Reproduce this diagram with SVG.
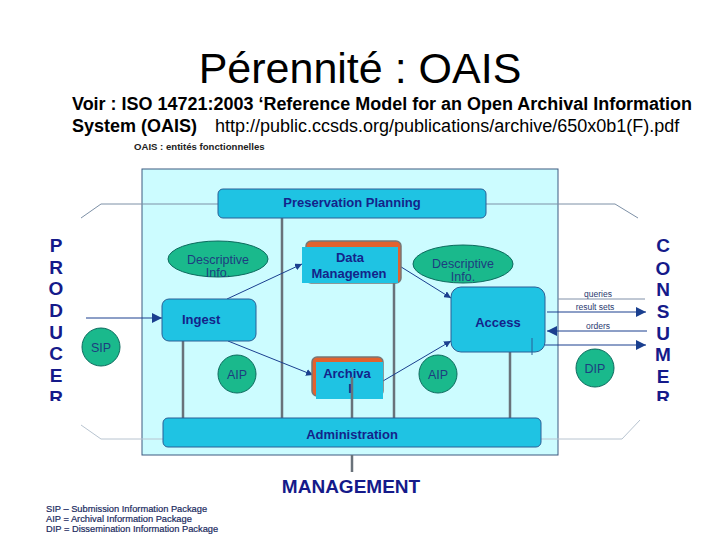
<svg xmlns="http://www.w3.org/2000/svg" width="720" height="540" viewBox="0 0 720 540">
<style>
.sans{font-family:"Liberation Sans",Arial,sans-serif}
.fbox{fill:#1fc3e3;stroke:#2a5f96;stroke-width:1}
.ftxt{font-family:"Liberation Sans",Arial,sans-serif;font-weight:bold;font-size:13px;fill:#14238a}
.ell{fill:#1ab98c;stroke:#0d6a5e;stroke-width:1}
.etxt{font-family:"Liberation Sans",Arial,sans-serif;font-size:12.5px;fill:#1d3d80}
.gray{stroke:#69727a;stroke-width:2.5;fill:none}
.thin{stroke:#1a3f8f;stroke-width:1;fill:none}
.faint{stroke:#b8c4d0;stroke-width:1;fill:none}
.guide{stroke:#7d90a6;stroke-width:1;fill:none}
.big{font-family:"Liberation Sans",Arial,sans-serif;font-weight:bold;font-size:19px;fill:#151a8a}
.lbl{font-family:"Liberation Sans",Arial,sans-serif;font-size:8.5px;fill:#2a3a70}
.leg{font-family:"Liberation Sans",Arial,sans-serif;font-size:9.3px;fill:#1a2a60;stroke:#1a2a60;stroke-width:0.2}
</style>
<defs>
<marker id="ah" viewBox="0 0 10 10" refX="10" refY="5" markerWidth="7" markerHeight="7" markerUnits="userSpaceOnUse" orient="auto">
<path d="M0,0 L10,5 L0,10 z" fill="#1a3f8f"/>
</marker>
<marker id="ahb" viewBox="0 0 10 10" refX="10" refY="5" markerWidth="10" markerHeight="10" markerUnits="userSpaceOnUse" orient="auto">
<path d="M0,0 L10,5 L0,10 z" fill="#1a3f8f"/>
</marker>
<clipPath id="vclip"><rect x="0" y="230" width="720" height="171"/></clipPath>
</defs>
<rect width="720" height="540" fill="#ffffff"/>

<g id="title">
<text x="360" y="83" text-anchor="middle" class="sans" font-size="43" fill="#000">Pérennité : OAIS</text>
<text x="72" y="110" class="sans" font-size="18" font-weight="bold" fill="#000" textLength="620" lengthAdjust="spacingAndGlyphs">Voir : ISO 14721:2003 ‘Reference Model for an Open Archival Information</text>
<text x="72" y="132" class="sans" font-size="18" fill="#000"><tspan font-weight="bold">System (OAIS)</tspan><tspan x="215">http://public.ccsds.org/publications/archive/650x0b1(F).pdf</tspan></text>
<text x="134" y="150" class="sans" font-size="9.6" font-weight="bold" fill="#222">OAIS : entités fonctionnelles</text>
</g>

<g id="oais-box">
<rect x="142" y="169" width="416" height="286" fill="#ccfcff" stroke="#3d5a80" stroke-width="1"/>
</g>

<g id="connectors">
<polyline class="guide" points="81,218 101,204 218,204"/>
<polyline class="guide" points="486,204 615,204 638,218"/>
<polyline class="faint" points="81,425 101,439 163,439"/>
<polyline class="faint" points="541,439 622,439 640,420"/>
<line class="gray" x1="183" y1="341" x2="183" y2="418"/>
<line class="gray" x1="282" y1="218" x2="282" y2="418"/>
<line class="gray" x1="394" y1="283" x2="394" y2="418"/>
<line class="gray" x1="510" y1="352" x2="510" y2="418"/>
<line class="gray" x1="352" y1="455" x2="352" y2="472"/>
<line class="thin" x1="86" y1="318" x2="162" y2="318" stroke-width="1.5" marker-end="url(#ahb)"/>
<line class="thin" x1="227" y1="299" x2="302" y2="264" marker-end="url(#ah)"/>
<line class="thin" x1="228" y1="341" x2="313" y2="375" marker-end="url(#ah)"/>
<line class="thin" x1="398" y1="265" x2="451" y2="298" marker-end="url(#ah)"/>
<line class="thin" x1="383" y1="381" x2="451" y2="341" marker-end="url(#ah)"/>
<line x1="558" y1="299" x2="645" y2="299" stroke="#8090a8" stroke-width="1"/>
<line class="thin" x1="547" y1="312" x2="646" y2="312" stroke-width="1.3" marker-end="url(#ahb)"/>
<line class="thin" x1="647" y1="331" x2="547" y2="331" stroke-width="2" marker-end="url(#ahb)"/>
<line class="thin" x1="545" y1="345" x2="646" y2="345" stroke-width="1.3" marker-end="url(#ahb)"/>
<text x="598" y="297" text-anchor="middle" class="lbl">queries</text>
<text x="595" y="310" text-anchor="middle" class="lbl">result sets</text>
<text x="598" y="329" text-anchor="middle" class="lbl">orders</text>
</g>

<g id="preservation-planning">
<rect class="fbox" x="218" y="189" width="268" height="29" rx="5"/>
<text class="ftxt" x="352" y="207" text-anchor="middle">Preservation Planning</text>
</g>

<g id="descriptive-info-left">
<ellipse class="ell" cx="218" cy="259" rx="50" ry="18"/>
<text class="etxt" x="218" y="264" text-anchor="middle">Descriptive</text>
<text class="etxt" x="218" y="277" text-anchor="middle">Info.</text>
</g>

<g id="descriptive-info-right">
<ellipse class="ell" cx="463" cy="264" rx="50" ry="19"/>
<text class="etxt" x="463" y="268" text-anchor="middle">Descriptive</text>
<text class="etxt" x="463" y="281" text-anchor="middle">Info.</text>
</g>

<g id="data-management">
<rect x="306" y="241" width="95" height="42" rx="5" fill="#e2622e" stroke="#777" stroke-width="1.5"/>
<rect x="302" y="247" width="96" height="36" fill="#1fc3e3"/>
<text class="ftxt" x="350" y="262" text-anchor="middle">Data</text>
<text class="ftxt" x="349" y="278" text-anchor="middle">Managemen</text>
</g>

<g id="archival-storage">
<rect x="312" y="357" width="71" height="39" rx="5" fill="#e2622e" stroke="#777" stroke-width="1.5"/>
<rect x="316" y="362" width="67" height="37" fill="#1fc3e3"/>
<text class="ftxt" x="347" y="378" text-anchor="middle">Archiva</text>
<text class="ftxt" x="350" y="393" text-anchor="middle">l</text>
<line class="gray" x1="352" y1="377" x2="352" y2="418"/>
</g>

<g id="ingest">
<rect class="fbox" x="162" y="299" width="94" height="42" rx="7"/>
<text class="ftxt" x="182" y="324">Ingest</text>
</g>

<g id="access">
<rect class="fbox" x="451" y="287" width="94" height="65" rx="10"/>
<text class="ftxt" x="498" y="327" text-anchor="middle" font-size="14">Access</text>
<line x1="532" y1="338" x2="532" y2="355" stroke="#2a5f96" stroke-width="1"/>
</g>

<g id="administration">
<rect class="fbox" x="163" y="418" width="378" height="29" rx="5"/>
<text class="ftxt" x="352" y="439" text-anchor="middle">Administration</text>
</g>

<g id="sip">
<circle class="ell" cx="101" cy="347" r="19"/>
<text class="etxt" x="101" y="352" text-anchor="middle">SIP</text>
</g>
<g id="aip-left">
<circle class="ell" cx="237" cy="374" r="19"/>
<text class="etxt" x="237" y="379" text-anchor="middle">AIP</text>
</g>
<g id="aip-right">
<circle class="ell" cx="438" cy="374" r="19"/>
<text class="etxt" x="438" y="379" text-anchor="middle">AIP</text>
</g>
<g id="dip">
<circle class="ell" cx="595" cy="368" r="19"/>
<text class="etxt" x="595" y="373" text-anchor="middle">DIP</text>
</g>

<g id="producer" clip-path="url(#vclip)">
<text class="big" text-anchor="middle"><tspan x="56" y="252">P</tspan><tspan x="56" y="274">R</tspan><tspan x="56" y="295">O</tspan><tspan x="56" y="317">D</tspan><tspan x="56" y="339">U</tspan><tspan x="56" y="360">C</tspan><tspan x="56" y="382">E</tspan><tspan x="56" y="404">R</tspan></text>
</g>
<g id="consumer" clip-path="url(#vclip)">
<text class="big" text-anchor="middle"><tspan x="663" y="252">C</tspan><tspan x="663" y="275">O</tspan><tspan x="663" y="296">N</tspan><tspan x="663" y="318">S</tspan><tspan x="663" y="340">U</tspan><tspan x="663" y="361">M</tspan><tspan x="663" y="383">E</tspan><tspan x="663" y="404">R</tspan></text>
</g>

<g id="management">
<text class="big" x="351" y="493" text-anchor="middle" fill="#101a6a">MANAGEMENT</text>
</g>

<g id="legend">
<text class="leg" x="46" y="512">SIP  – Submission Information Package</text>
<text class="leg" x="46" y="522">AIP =  Archival Information Package</text>
<text class="leg" x="46" y="532">DIP =  Dissemination Information Package</text>
</g>
</svg>
